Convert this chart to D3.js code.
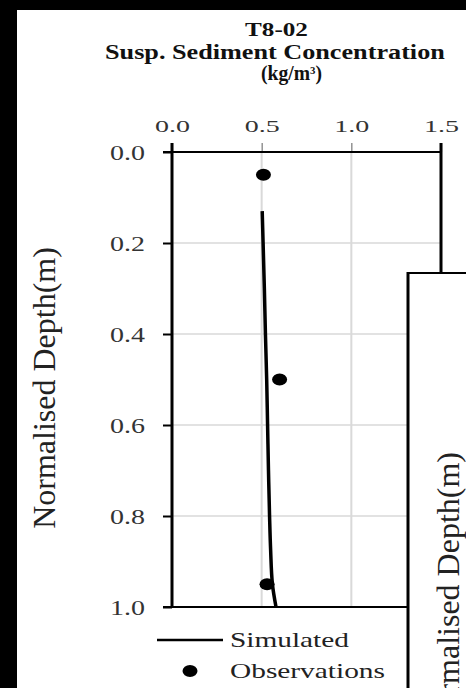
<!DOCTYPE html>
<html>
<head>
<meta charset="utf-8">
<script src="https://cdn.jsdelivr.net/npm/d3@7"></script>
<style>
body { margin: 0; background: #000; overflow: hidden; }
svg { display: block; }
text { font-family: "Liberation Serif", "Times New Roman", serif; }
</style>
</head>
<body>
<div id="wrapper"></div>
<script>
// chart values
var depth_ticks = [0.0, 0.2, 0.4, 0.6, 0.8, 1.0];
var conc_ticks = [0.0, 0.5, 1.0, 1.5];
var sim_depth = [0.13, 0.2, 0.3, 0.4, 0.5, 0.6, 0.7, 0.8, 0.875, 0.95, 1.0];
var sim_conc = [0.503, 0.508, 0.515, 0.521, 0.528, 0.533, 0.538, 0.544, 0.550, 0.560, 0.580];
var obs_depth = [0.05, 0.5, 0.95];
var obs_conc = [0.51, 0.60, 0.53];
var title_lines = ['T8-02', 'Susp. Sediment Concentration'];
var unit_text = '(kg/m';
var unit_sup = '3';
var y_label = 'Normalised Depth(m)';
var legend_labels = ['Simulated', 'Observations'];

var TOTAL_WIDTH = 466;
var TOTAL_HEIGHT = 688;
var PLOT = {left: 172, right: 441, top: 152, bottom: 607};

var svg = d3.select('#wrapper').append('svg')
    .attr('width', TOTAL_WIDTH)
    .attr('height', TOTAL_HEIGHT);

// black frame, white page
svg.append('rect')
    .attr('width', TOTAL_WIDTH).attr('height', TOTAL_HEIGHT)
    .attr('fill', '#000');
svg.append('rect')
    .attr('x', 17).attr('y', 10)
    .attr('width', TOTAL_WIDTH - 17).attr('height', TOTAL_HEIGHT - 10)
    .attr('fill', '#fff');

var scale_x = d3.scaleLinear().domain([0, 1.5]).range([PLOT.left, PLOT.right]);
var scale_y = d3.scaleLinear().domain([0, 1]).range([PLOT.top, PLOT.bottom]);

// stretch a text horizontally so it covers a given width
function fit_width(text_sel, left, baseline, width) {
    var w = text_sel.node().getBBox().width;
    text_sel
        .attr('x', 0).attr('y', 0)
        .attr('text-anchor', 'start')
        .attr('transform', 'translate(' + left + ',' + baseline + ') scale(' + (width / w) + ',1)');
}

// title
var title = svg.append('g').attr('font-weight', 'bold').attr('fill', '#111');
fit_width(title.append('text').attr('font-size', 19).text(title_lines[0]), 245, 36, 63);
fit_width(title.append('text').attr('font-size', 20).text(title_lines[1]), 105, 59, 340);
var unit = title.append('text').attr('font-size', 20);
unit.append('tspan').text(unit_text);
unit.append('tspan').attr('font-size', 11).attr('dy', -6).text(unit_sup);
unit.append('tspan').attr('dy', 6).text(')');
fit_width(unit, 261, 80, 61);

// grid
var grid = svg.append('g').attr('stroke', '#d9d9d9').attr('stroke-width', 1.5);
grid.selectAll('.vgrid')
    .data(conc_ticks.filter(function(d) {return d > 0 && d < 1.5;}))
    .enter().append('line')
    .attr('x1', function(d) {return scale_x(d);})
    .attr('x2', function(d) {return scale_x(d);})
    .attr('y1', PLOT.top).attr('y2', PLOT.bottom)
    .attr('stroke-width', 2);
grid.selectAll('.hgrid')
    .data(depth_ticks.filter(function(d) {return d > 0 && d < 1;}))
    .enter().append('line')
    .attr('x1', PLOT.left).attr('x2', PLOT.right)
    .attr('y1', function(d) {return scale_y(d);})
    .attr('y2', function(d) {return scale_y(d);});

// axes
var axis_x = d3.axisTop(scale_x)
    .tickValues(conc_ticks)
    .tickFormat(d3.format('.1f'))
    .tickSizeOuter(0)
    .tickSizeInner(9);
var axis_y = d3.axisLeft(scale_y)
    .tickValues(depth_ticks)
    .tickFormat(d3.format('.1f'))
    .tickSizeOuter(0)
    .tickSizeInner(9);

var gx = svg.append('g')
    .attr('transform', 'translate(0,' + PLOT.top + ')')
    .call(axis_x);
var gy = svg.append('g')
    .attr('transform', 'translate(' + PLOT.left + ',0)')
    .call(axis_y);
gx.select('.domain').remove();
gy.select('.domain').remove();
gx.selectAll('line').attr('stroke', '#777').attr('stroke-width', 1.2);
gy.selectAll('line').attr('stroke', '#000').attr('stroke-width', 2);

gx.selectAll('text')
    .attr('font-size', 17).attr('fill', '#333').attr('dy', null)
    .each(function() {
        var t = d3.select(this);
        var w = this.getBBox().width;
        t.attr('x', 0).attr('y', 0)
            .attr('transform', 'translate(0,-20) scale(' + (35 / w) + ',1)');
    });
gy.selectAll('text')
    .attr('font-size', 20).attr('fill', '#333').attr('dy', null)
    .each(function() {
        var t = d3.select(this);
        var w = this.getBBox().width;
        t.attr('x', 0).attr('y', 0)
            .attr('transform', 'translate(-27,7) scale(' + (35 / w) + ',1)');
    });

// plot frame
var frame = svg.append('g').attr('stroke', '#000');
frame.append('line')
    .attr('x1', PLOT.left - 9).attr('x2', PLOT.right)
    .attr('y1', PLOT.top).attr('y2', PLOT.top)
    .attr('stroke-width', 2);
frame.append('line')
    .attr('x1', PLOT.left - 9).attr('x2', PLOT.right)
    .attr('y1', PLOT.bottom).attr('y2', PLOT.bottom)
    .attr('stroke-width', 2);
frame.append('line')
    .attr('x1', PLOT.left).attr('x2', PLOT.left)
    .attr('y1', PLOT.top - 9).attr('y2', PLOT.bottom)
    .attr('stroke-width', 3);
frame.append('line')
    .attr('x1', PLOT.right).attr('x2', PLOT.right)
    .attr('y1', PLOT.top - 9).attr('y2', PLOT.bottom)
    .attr('stroke-width', 3);

// simulated profile
var sim_data = sim_depth.map(function(d, i) {return {depth: d, conc: sim_conc[i]};});
var line = d3.line()
    .x(function(d) {return scale_x(d.conc);})
    .y(function(d) {return scale_y(d.depth);})
    .curve(d3.curveMonotoneY);
svg.append('path')
    .datum(sim_data)
    .attr('d', line)
    .attr('fill', 'none')
    .attr('stroke', '#000')
    .attr('stroke-width', 3.5);

// observations
var obs_data = obs_depth.map(function(d, i) {return {depth: d, conc: obs_conc[i]};});
svg.selectAll('.obs')
    .data(obs_data)
    .enter().append('ellipse')
    .attr('class', 'obs')
    .attr('cx', function(d) {return scale_x(d.conc);})
    .attr('cy', function(d) {return scale_y(d.depth);})
    .attr('rx', 7.5).attr('ry', 6)
    .attr('fill', '#000');

// y axis label
svg.append('text')
    .attr('transform', 'translate(55,388) rotate(-90)')
    .attr('text-anchor', 'middle')
    .attr('font-size', 32)
    .attr('fill', '#222')
    .text(y_label);

// legend
var legend = svg.append('g');
legend.append('line')
    .attr('x1', 157).attr('x2', 223)
    .attr('y1', 640).attr('y2', 640)
    .attr('stroke', '#000').attr('stroke-width', 2.5);
legend.append('ellipse')
    .attr('cx', 190).attr('cy', 671)
    .attr('rx', 7.5).attr('ry', 6)
    .attr('fill', '#000');
fit_width(legend.append('text').attr('font-size', 22).attr('fill', '#222').text(legend_labels[0]), 230, 647, 119);
fit_width(legend.append('text').attr('font-size', 22).attr('fill', '#222').text(legend_labels[1]), 230, 678, 155);

// next chart panel overlapping at the bottom right
var panel = svg.append('g');
panel.append('rect')
    .attr('x', 408).attr('y', 273)
    .attr('width', 80).attr('height', 450)
    .attr('fill', '#fff');
panel.append('line')
    .attr('x1', 408).attr('x2', 408)
    .attr('y1', 272).attr('y2', TOTAL_HEIGHT)
    .attr('stroke', '#000').attr('stroke-width', 3);
panel.append('line')
    .attr('x1', 407).attr('x2', TOTAL_WIDTH)
    .attr('y1', 273).attr('y2', 273)
    .attr('stroke', '#000').attr('stroke-width', 2);
panel.append('text')
    .attr('transform', 'translate(459,452) rotate(-90)')
    .attr('text-anchor', 'end')
    .attr('font-size', 32)
    .attr('fill', '#222')
    .text(y_label);
</script>
</body>
</html>
